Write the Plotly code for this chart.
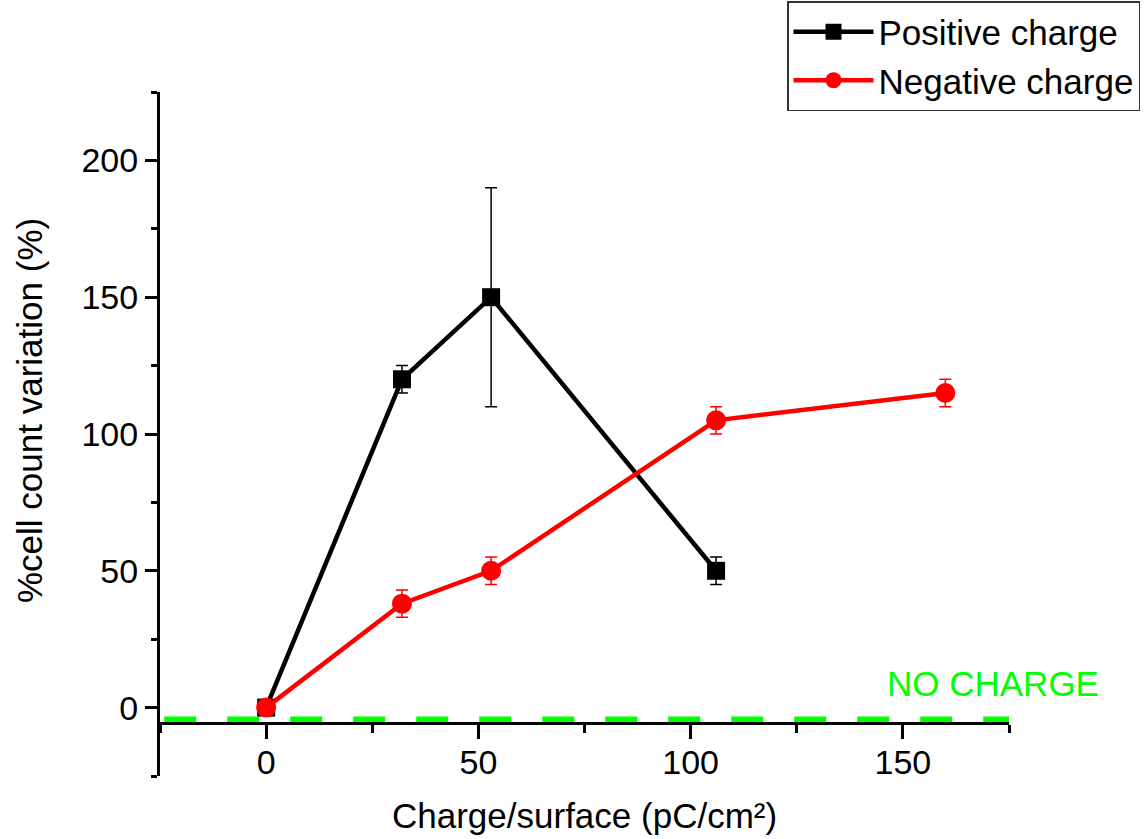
import plotly.graph_objects as go

# Data
pos_x = [0, 32, 53, 106]
pos_y = [0, 120, 150, 50]
pos_err = [0, 5, 40, 5]

neg_x = [0, 32, 53, 106, 160]
neg_y = [0, 38, 50, 105, 115]
neg_err = [0, 5, 5, 5, 5]

nocharge_x = [-24, 178]
nocharge_y = [-4.5, -4.5]

x_range = [-25, 175]
y_range = [-25, 225]
x_axis_at = -5.6

FONT = "Liberation Sans, Arial, sans-serif"

fig = go.Figure()

fig.add_trace(go.Scatter(
    x=nocharge_x, y=nocharge_y, mode="lines",
    line=dict(color="#00ff00", width=7, dash="32px,31px"),
    showlegend=False, hoverinfo="skip", cliponaxis=False,
))

fig.add_trace(go.Scatter(
    x=pos_x, y=pos_y, mode="lines+markers", name="Positive charge",
    line=dict(color="black", width=4.5),
    marker=dict(symbol="square", size=18, color="black"),
    error_y=dict(type="data", array=pos_err, color="black", thickness=1.5, width=6),
    cliponaxis=False,
))

fig.add_trace(go.Scatter(
    x=neg_x, y=neg_y, mode="lines+markers", name="Negative charge",
    line=dict(color="#ff0000", width=4.5),
    marker=dict(symbol="circle", size=20, color="#ff0000"),
    error_y=dict(type="data", array=neg_err, color="#ff0000", thickness=1.5, width=6),
    cliponaxis=False,
))

W, H = 1145, 839
L, R, T, B = 160, 136, 92, 63
plot_w = W - L - R
plot_h = H - T - B

fig.update_layout(
    width=W, height=H,
    margin=dict(l=L, r=R, t=T, b=B, autoexpand=False),
    paper_bgcolor="white", plot_bgcolor="white",
    font=dict(family=FONT, size=34, color="black"),
    showlegend=True,
    legend=dict(
        x=(787 - L) / plot_w, y=(H - B - 1) / plot_h,
        xanchor="left", yanchor="top",
        bordercolor="#333333", borderwidth=1.5, bgcolor="white",
        font=dict(family=FONT, size=35, color="black"),
        itemwidth=80, tracegroupgap=0,
    ),
    xaxis=dict(
        range=x_range, anchor="free",
        position=(x_axis_at - y_range[0]) / (y_range[1] - y_range[0]),
        showline=True, linecolor="black", linewidth=3,
        showgrid=False, zeroline=False,
        ticks="outside", ticklen=14, tickwidth=2.5, tickcolor="black",
        tick0=0, dtick=50, ticklabelstandoff=-6,
        minor=dict(dtick=25, tick0=0, ticks="outside", ticklen=8,
                   tickwidth=2.5, tickcolor="black", showgrid=False),
        tickfont=dict(family=FONT, size=34, color="black"),
    ),
    yaxis=dict(
        range=y_range,
        showline=True, linecolor="black", linewidth=3,
        showgrid=False, zeroline=False,
        ticks="outside", ticklen=12, tickwidth=2.5, tickcolor="black",
        tick0=0, dtick=50,
        minor=dict(dtick=25, tick0=0, ticks="outside", ticklen=6,
                   tickwidth=2.5, tickcolor="black", showgrid=False),
        tickfont=dict(family=FONT, size=34, color="black"),
    ),
    annotations=[
        dict(text="Charge/surface (pC/cm²)", xref="paper", yref="paper",
             x=0.5, y=(H - B - 815) / plot_h, xanchor="center", yanchor="middle",
             showarrow=False, font=dict(family=FONT, size=35, color="black")),
        dict(text="%cell count variation (%)", xref="paper", yref="paper",
             x=(29 - L) / plot_w, y=(H - B - 411) / plot_h, textangle=-90,
             xanchor="center", yanchor="middle",
             showarrow=False, font=dict(family=FONT, size=35, color="black")),
        dict(text="NO CHARGE", xref="x", yref="y", x=171.3, y=8.8,
             xanchor="center", yanchor="middle", showarrow=False,
             font=dict(family=FONT, size=35, color="#00ff00")),
    ],
)

fig.write_html(
    "out.html",
    config={"displayModeBar": False},
    post_script="document.body.style.margin='0';document.body.style.padding='0';",
)
